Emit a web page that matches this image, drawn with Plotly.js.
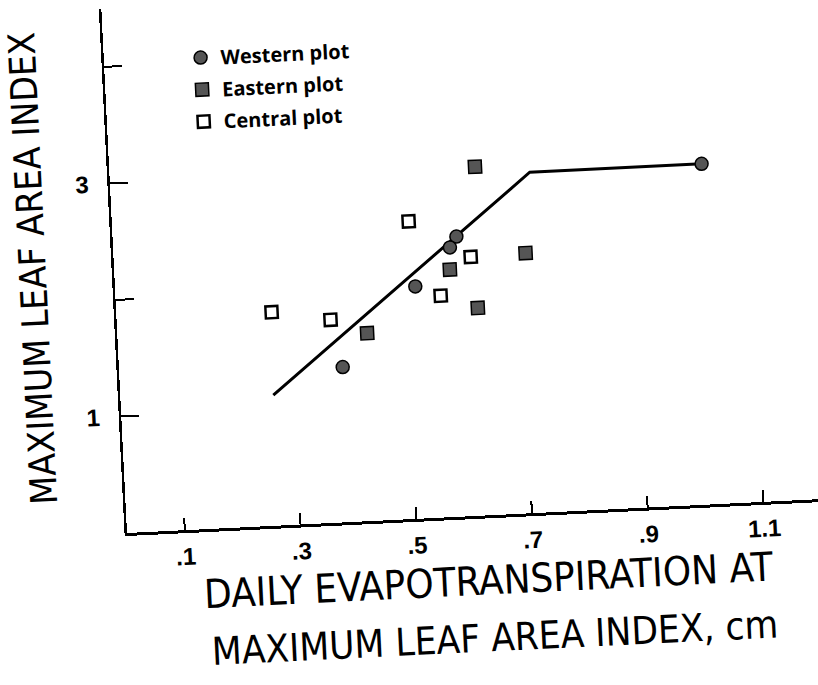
<!DOCTYPE html>
<html>
<head>
<meta charset="utf-8">
<script src="https://cdn.plot.ly/plotly-3.0.1.min.js"></script>
<style>
  html, body { margin: 0; padding: 0; background: #ffffff; overflow: hidden; width: 818px; height: 685px; }
  #chart {
    position: absolute; left: 0; top: 0; width: 880px; height: 685px;
    transform-origin: 127.3px 533.3px;
    transform: rotate(-2.8deg);
  }
</style>
</head>
<body>
<div id="chart"></div>
<script>
// Daily evapotranspiration (cm) vs. maximum leaf area index, by plot
const westX = [0.593, 0.581, 0.518, 0.386, 1.022];
const westY = [2.40, 2.31, 1.99, 1.33, 2.92];

const eastX = [0.631, 0.711, 0.579, 0.624, 0.431];
const eastY = [2.99, 2.23, 2.12, 1.78, 1.61];

const centX = [0.512, 0.616, 0.561, 0.268, 0.369];
const centY = [2.55, 2.22, 1.90, 1.83, 1.74];

// broken-line fit
const fitX = [0.264, 0.725, 1.022];
const fitY = [1.12, 2.92, 2.92];

const xTickVals = [0.1, 0.3, 0.5, 0.7, 0.9, 1.1];
const xTickText = ['.1', '.3', '.5', '.7', '.9', '1.1'];
const yTickVals = [1, 2, 3, 4];
const yTickText = ['1', '', '3', ''];

const seriesNames = ['Western plot', 'Eastern plot', 'Central plot'];
const xTitleLines = ['DAILY EVAPOTRANSPIRATION AT', 'MAXIMUM LEAF AREA INDEX, cm'];
const yTitleText = 'MAXIMUM LEAF AREA INDEX';

const W = 880, H = 685;
const mL = 127.3, mT = 7.7, mB = H - 533.3;
const xMax = 1.25, pxPerX = 579;
const plotW = xMax * pxPerX;
const mR = W - mL - plotW;
const plotH = H - mT - mB;

function paperX(px) { return (px - mL) / plotW; }
function paperY(py) { return 1 - (py - mT) / plotH; }

const narrow = 'Liberation Sans Narrow, DejaVu Sans Condensed, Arial Narrow, sans-serif';
const tickFamily = 'Liberation Sans, Arial, sans-serif';

const traces = [
  {
    x: fitX, y: fitY, mode: 'lines', showlegend: false, hoverinfo: 'skip',
    line: { color: '#000000', width: 3 }
  },
  {
    x: westX, y: westY, mode: 'markers', name: seriesNames[0], legendgroup: 'w',
    marker: { symbol: 'circle', size: 13, color: '#555555', line: { color: '#000000', width: 1.5 } }
  },
  {
    x: eastX, y: eastY, mode: 'markers', name: seriesNames[1], legendgroup: 'e',
    marker: { symbol: 'square', size: 13, color: '#555555', line: { color: '#000000', width: 1.5 } }
  },
  {
    x: centX, y: centY, mode: 'markers', name: seriesNames[2], legendgroup: 'c',
    marker: { symbol: 'square', size: 12, color: '#ffffff', line: { color: '#000000', width: 2.5 } }
  }
];

const layout = {
  width: W, height: H,
  margin: { l: mL, r: mR, t: mT, b: mB, pad: 0 },
  paper_bgcolor: '#ffffff', plot_bgcolor: '#ffffff',
  showlegend: true,
  legend: {
    x: paperX(204), xanchor: 'left',
    y: paperY(42), yanchor: 'top',
    bgcolor: 'rgba(0,0,0,0)', borderwidth: 0,
    tracegroupgap: 3,
    font: { family: 'Open Sans, sans-serif', size: 20, weight: 700, color: '#000000' }
  },
  xaxis: {
    range: [0, xMax], showgrid: false, zeroline: false,
    showline: true, linecolor: '#000000', linewidth: 3,
    ticks: 'inside', ticklen: 12, tickwidth: 2, tickcolor: '#000000',
    tickmode: 'array', tickvals: xTickVals, ticktext: xTickText,
    ticklabelstandoff: 3,
    tickfont: { family: tickFamily, size: 24, weight: 700, color: '#000000' }
  },
  yaxis: {
    range: [0, 4.5], showgrid: false, zeroline: false,
    showline: true, linecolor: '#000000', linewidth: 2.5,
    ticks: 'inside', ticklen: 18, tickwidth: 2, tickcolor: '#000000',
    tickmode: 'array', tickvals: yTickVals, ticktext: yTickText,
    ticklabelstandoff: 14,
    tickfont: { family: tickFamily, size: 24, weight: 700, color: '#000000' }
  },
  annotations: [
    {
      xref: 'paper', yref: 'paper', x: paperX(46), y: paperY(264),
      text: yTitleText, textangle: -90, showarrow: false,
      xanchor: 'center', yanchor: 'middle',
      font: { family: narrow, size: 37, color: '#000000' }
    },
    {
      xref: 'paper', yref: 'paper', x: paperX(486), y: paperY(598),
      text: xTitleLines[0], showarrow: false,
      xanchor: 'center', yanchor: 'middle',
      font: { family: narrow, size: 40, color: '#000000' }
    },
    {
      xref: 'paper', yref: 'paper', x: paperX(490), y: paperY(656),
      text: xTitleLines[1], showarrow: false,
      xanchor: 'center', yanchor: 'middle',
      font: { family: narrow, size: 38.5, color: '#000000' }
    }
  ]
};

Plotly.newPlot('chart', traces, layout, { displayModeBar: false, staticPlot: true });
</script>
</body>
</html>
